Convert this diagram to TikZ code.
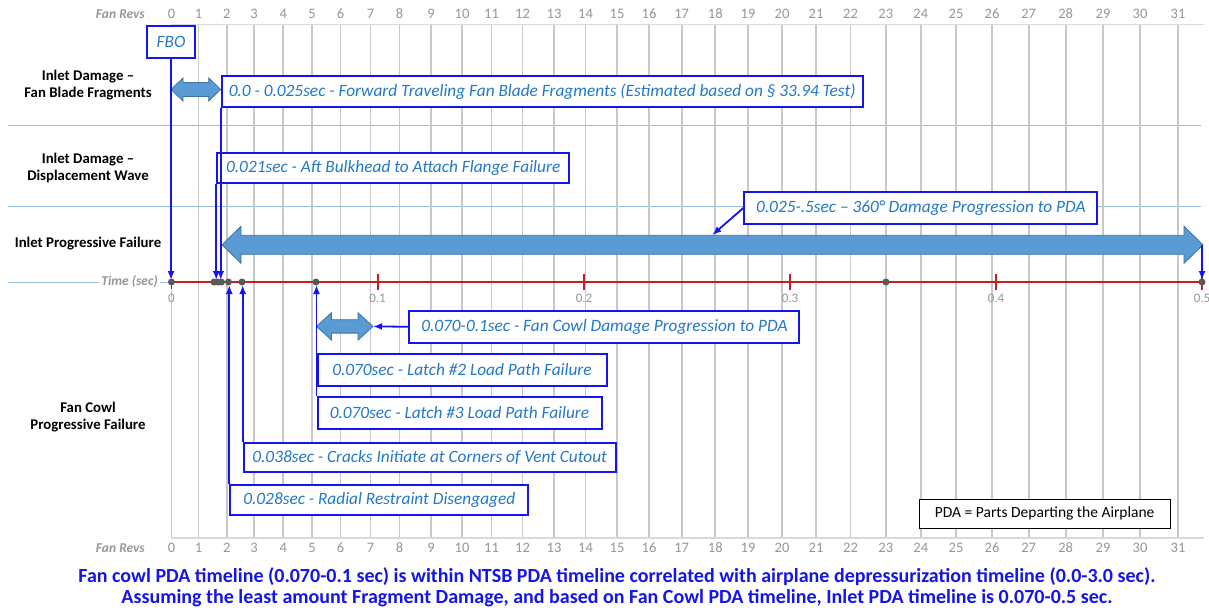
\documentclass[tikz,border=0pt]{standalone}
\usepackage{fontspec}
\setmainfont{Carlito}
\usetikzlibrary{arrows.meta}
\definecolor{boxblue}{RGB}{20,20,240}
\definecolor{textblue}{RGB}{35,120,200}
\definecolor{fatfill}{RGB}{91,155,213}
\definecolor{fatline}{RGB}{65,113,156}
\definecolor{rowline}{RGB}{150,190,228}
\definecolor{gridgray}{RGB}{200,200,200}
\definecolor{axisred}{RGB}{200,30,30}
\definecolor{dotgray}{RGB}{90,90,90}
\definecolor{labgray}{RGB}{150,150,150}
\definecolor{notegblue}{RGB}{20,20,235}
\newcommand{\fatarrow}[6]{%
  \filldraw[fatarrowstyle] (#1,#3) -- ({#1+#6},{#3-#4}) -- ({#1+#6},{#3-#5}) -- ({#2-#6},{#3-#5}) -- ({#2-#6},{#3-#4}) -- (#2,#3) -- ({#2-#6},{#3+#4}) -- ({#2-#6},{#3+#5}) -- ({#1+#6},{#3+#5}) -- ({#1+#6},{#3+#4}) -- cycle;}
\begin{document}
\begin{tikzpicture}[x=1pt,y=-1pt,
  fatarrowstyle/.style={fill=fatfill,draw=fatline,line width=0.8pt},
  gridline/.style={draw=gridgray,line width=1.8pt},
  frameline/.style={draw=gridgray!70,line width=1.8pt},
  rowsep/.style={draw=rowline,line width=0.9pt},
  revnum/.style={text=labgray,font=\fontsize{14.5}{16}\selectfont,inner sep=0pt},
  revtitle/.style={text=labgray,font=\fontsize{13.5}{15}\selectfont\bfseries\itshape,inner sep=1pt},
  tlabel/.style={text=labgray,font=\fontsize{13}{14}\selectfont,inner sep=0pt},
  evbox/.style={draw=boxblue,line width=2pt,fill=white,text=textblue,font=\fontsize{17.3}{20}\selectfont\itshape,inner sep=0pt,anchor=north west},
  rowlab/.style={font=\fontsize{14.8}{17}\selectfont\bfseries,align=center,text=black},
  conn/.style={draw=boxblue,line width=1.8pt},
  tip/.style={-{Latex[length=9pt,width=7pt]}},
  evdot/.style={circle,fill=dotgray,inner sep=0pt,minimum size=7pt},
  redtick/.style={draw=axisred,line width=1.8pt},
  note/.style={text=notegblue,font=\fontsize{20}{23}\selectfont\bfseries}
]
\useasboundingbox (0,0) rectangle (1209,611);
\fill[white] (0,0) rectangle (1209,611);

% row separators
\draw[rowsep] (8,125.5) -- (1201,125.5);
\draw[rowsep] (8,206) -- (1201,206);
\draw[rowsep] (8,282) -- (172,282);

% fan revolution grid
\foreach \x [count=\i from 0] in {171.5,198.5,226.7,254,283.3,312,340.5,370.5,399.5,431,462,491.5,522.5,554,585.5,617,649,681.6,715.3,748,782,816,850.5,885.8,920.8,956,992,1028.7,1065.6,1103,1140,1178}{
  \draw[gridline] (\x,24.5) -- (\x,538);
  \node[revnum] (rt\i) at (\x,14) {\i};
  \node[revnum] (rb\i) at (\x,548) {\i};
}
\draw[frameline] (171,24.5) -- (1204,24.5);
\draw[frameline] (171,538) -- (1204,538);
\node[revtitle,anchor=east] (revtop) at (146,14) {Fan Revs};
\node[revtitle,anchor=east] (revbot) at (146,548) {Fan Revs};

% time axis
\draw[draw=axisred,line width=1.8pt] (171.5,282) -- (1205,282);
\draw[redtick] (171.5,282) -- (171.5,289);
\foreach \t/\x in {0.1/377.6,0.2/584,0.3/790,0.4/996,0.5/1202}{
  \draw[redtick] (\x,274) -- (\x,290);
  \node[tlabel] (tl\t) at (\x,298) {\t};
}
\node[tlabel] (tl0) at (171.5,298) {0};
\node[revtitle,fill=white,anchor=east,inner sep=2pt] (timelab) at (160,282) {Time (sec)};

% axis targets
\coordinate (aFBO) at (171,280);
\coordinate (a021) at (216.2,280);
\coordinate (a025) at (220.7,280);
\coordinate (a028) at (229.3,285);
\coordinate (a038) at (242.7,285);
\coordinate (a070) at (316.5,285);
\coordinate (a500) at (1202,280);

% fat arrows
\fatarrow{171}{220.7}{89.5}{11.5}{7}{12}
\fatarrow{222}{1203}{244.8}{18.5}{9.5}{19}
\fatarrow{316.5}{373}{326.4}{13.7}{6.7}{15}
\coordinate (bigtip) at (1202,245);
\coordinate (bigmid) at (712.3,235);
\coordinate (cowltip) at (373,326.4);

% boxes
\node[evbox,minimum width=48pt,minimum height=32pt] (fbo) at (146,25) {FBO};
\node[evbox,minimum width=641pt,minimum height=31pt] (b1) at (220.7,75) {0.0 - 0.025sec - Forward Traveling Fan Blade Fragments (Estimated based on § 33.94 Test)};
\node[evbox,minimum width=352pt,minimum height=30pt] (b2) at (216.2,152) {0.021sec - Aft Bulkhead to Attach Flange Failure};
\node[evbox,minimum width=353pt,minimum height=32pt] (b3) at (743.3,191) {0.025-.5sec -- 360° Damage Progression to PDA};
\node[evbox,minimum width=390pt,minimum height=31.5pt] (b4) at (408.4,310) {0.070-0.1sec - Fan Cowl Damage Progression to PDA};
\node[evbox,minimum width=289pt,minimum height=31.5pt] (b5) at (316.5,353) {0.070sec - Latch \#2 Load Path Failure};
\node[evbox,minimum width=284pt,minimum height=31.5pt] (b6) at (316.5,396) {0.070sec - Latch \#3 Load Path Failure};
\node[evbox,minimum width=372pt,minimum height=29.5pt] (b7) at (242.7,441.5) {0.038sec - Cracks Initiate at Corners of Vent Cutout};
\node[evbox,minimum width=298pt,minimum height=30.5pt] (b8) at (229.3,483.5) {0.028sec - Radial Restraint Disengaged};
\node[draw=black,line width=1.3pt,fill=white,inner sep=0pt,minimum width=251pt,minimum height=29pt,anchor=north west,font=\fontsize{15.5}{18}\selectfont] (pda) at (918.5,498.5) {PDA = Parts Departing the Airplane};

% connectors
\draw[conn,tip] (fbo.south) -- (aFBO);
\draw[conn,tip] (b1.south west) -- (a025);
\draw[conn,tip] (b2.south west) -- (a021);
\draw[conn,tip] (b3.west) -- (bigmid);
\draw[conn,tip] (b4.west) -- (cowltip);
\draw[conn,tip] (b6.north west) -- (a070);
\draw[conn,tip] (b7.north west) -- (a038);
\draw[conn,tip] (b8.north west) -- (a028);
\draw[conn,tip] (bigtip) -- (a500);

% events on the axis
\foreach \x [count=\k] in {171.5,214,218,221.5,228.5,242,316,886,1202}{
  \node[evdot] (d\k) at (\x,282) {};
}

% row labels
\node[rowlab] (l1) at (88,85) {Inlet Damage --\\Fan Blade Fragments};
\node[rowlab] (l2) at (88,168) {Inlet Damage --\\Displacement Wave};
\node[rowlab] (l3) at (88,244) {Inlet Progressive Failure};
\node[rowlab] (l4) at (88,417.5) {Fan Cowl\\Progressive Failure};

% notes
\node[note] (n1) at (617,577) {Fan cowl PDA timeline (0.070-0.1 sec) is within NTSB PDA timeline correlated with airplane depressurization timeline (0.0-3.0 sec).};
\node[note] (n2) at (617,598) {Assuming the least amount Fragment Damage, and based on Fan Cowl PDA timeline, Inlet PDA timeline is 0.070-0.5 sec.};
\end{tikzpicture}
\end{document}
